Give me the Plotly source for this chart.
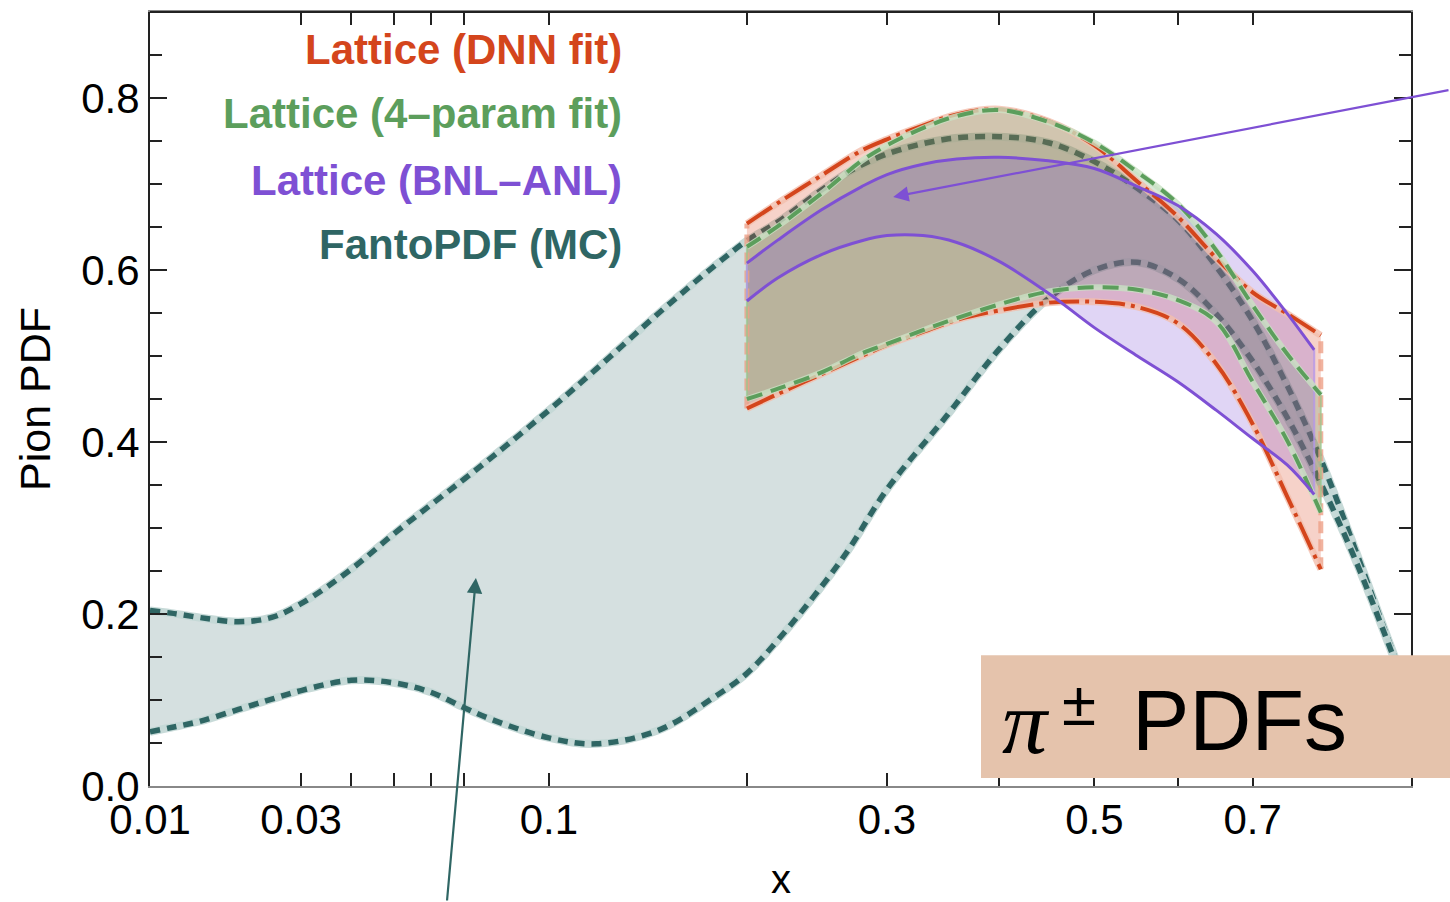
import numpy as np
import plotly.graph_objects as go

# ---------------- data ----------------
fanto_x = [0.01, 0.012, 0.015, 0.02, 0.025, 0.03, 0.04, 0.05, 0.06, 0.07, 0.08, 0.1, 0.12, 0.15, 0.18,
           0.2, 0.22, 0.25, 0.27, 0.3, 0.35, 0.4, 0.45, 0.5, 0.55, 0.6, 0.65, 0.7, 0.75, 0.8, 0.85, 0.9, 0.95]
fanto_hi = [0.204, 0.201, 0.196, 0.191, 0.196, 0.212, 0.252, 0.293, 0.327, 0.357, 0.385, 0.437, 0.485, 0.550, 0.604,
            0.634, 0.656, 0.693, 0.714, 0.735, 0.752, 0.755, 0.748, 0.726, 0.695, 0.658, 0.604, 0.541, 0.465,
            0.380, 0.283, 0.185, 0.092]
fanto_lo = [0.063, 0.068, 0.075, 0.089, 0.101, 0.111, 0.123, 0.120, 0.109, 0.091, 0.076, 0.056, 0.049, 0.065, 0.103,
            0.131, 0.170, 0.232, 0.275, 0.345, 0.429, 0.508, 0.567, 0.600, 0.609, 0.590, 0.549, 0.494, 0.428,
            0.352, 0.270, 0.180, 0.088]

lat_x = [0.2, 0.22, 0.25, 0.28, 0.3, 0.33, 0.36, 0.4, 0.45, 0.5, 0.55, 0.6, 0.65, 0.7, 0.75, 0.8]
dnn_hi = [0.654, 0.678, 0.710, 0.739, 0.752, 0.768, 0.781, 0.787, 0.773, 0.745, 0.703, 0.662, 0.614, 0.574, 0.549, 0.524]
dnn_lo = [0.439, 0.456, 0.479, 0.500, 0.513, 0.528, 0.542, 0.553, 0.562, 0.563, 0.557, 0.538, 0.491, 0.421, 0.336, 0.252]
p4_hi = [0.627, 0.651, 0.689, 0.727, 0.745, 0.765, 0.779, 0.786, 0.772, 0.748, 0.714, 0.677, 0.623, 0.559, 0.502, 0.455]
p4_lo = [0.450, 0.462, 0.481, 0.503, 0.514, 0.530, 0.544, 0.560, 0.575, 0.580, 0.577, 0.565, 0.540, 0.470, 0.401, 0.318]

bnl_x = [0.2, 0.22, 0.25, 0.28, 0.3, 0.33, 0.36, 0.4, 0.45, 0.5, 0.55, 0.6, 0.65, 0.7, 0.75, 0.79]
bnl_hi = [0.608, 0.635, 0.670, 0.697, 0.711, 0.723, 0.729, 0.731, 0.727, 0.718, 0.697, 0.675, 0.642, 0.599, 0.549, 0.507]
bnl_lo = [0.564, 0.591, 0.618, 0.634, 0.640, 0.640, 0.632, 0.610, 0.573, 0.533, 0.500, 0.470, 0.437, 0.404, 0.373, 0.339]

x_tick_vals = [0.01, 0.03, 0.1, 0.3, 0.5, 0.7]
x_tick_text = ["0.01", "0.03", "0.1", "0.3", "0.5", "0.7"]
x_minor_vals = [0.04, 0.05, 0.06, 0.07, 0.2, 0.4, 0.6]
y_tick_vals = [0.0, 0.2, 0.4, 0.6, 0.8]
y_tick_text = ["0.0", "0.2", "0.4", "0.6", "0.8"]

legend_labels = ["Lattice (DNN fit)", "Lattice (4\u2013param fit)", "Lattice (BNL\u2013ANL)", "FantoPDF (MC)"]

# ---------------- styling ----------------
RED = "#D4451C"
GREEN = "#5C9E5C"
PURPLE = "#7E50D4"
TEAL = "#2F6664"
FONT = "Liberation Sans"

P = 0.35  # power-law x scale (log-like at small x)


def tx(v):
    return (np.asarray(v, dtype=float) ** P).tolist()


fig = go.Figure()


def band(xs, lo, hi, fill):
    fig.add_trace(go.Scatter(x=tx(xs), y=lo, mode="lines", line=dict(width=0, shape="spline"),
                             showlegend=False, hoverinfo="skip"))
    fig.add_trace(go.Scatter(x=tx(xs), y=hi, mode="lines", line=dict(width=0, shape="spline"),
                             fill="tonexty", fillcolor=fill, showlegend=False, hoverinfo="skip"))


def curve(xs, ys, color, width, dash="solid"):
    fig.add_trace(go.Scatter(x=tx(xs), y=ys, mode="lines",
                             line=dict(color=color, width=width, dash=dash, shape="spline"),
                             showlegend=False, hoverinfo="skip"))


def edge(xv, y0, y1, color, width, dash="solid"):
    fig.add_trace(go.Scatter(x=tx([xv, xv]), y=[y0, y1], mode="lines",
                             line=dict(color=color, width=width, dash=dash),
                             showlegend=False, hoverinfo="skip"))


# FantoPDF band
band(fanto_x, fanto_lo, fanto_hi, "rgba(46,100,98,0.20)")
for ys in (fanto_hi, fanto_lo):
    curve(fanto_x, ys, "rgba(196,216,214,0.95)", 8)
    curve(fanto_x, ys, TEAL, 5.5, "10px,7px")

# lattice bands (fills)
band(lat_x, dnn_lo, dnn_hi, "rgba(216,68,28,0.24)")
band(lat_x, p4_lo, p4_hi, "rgba(92,158,92,0.24)")
band(bnl_x, bnl_lo, bnl_hi, "rgba(126,80,212,0.24)")

# band edges
edge(lat_x[0], dnn_lo[0], dnn_hi[0], "rgba(238,160,135,0.8)", 5, "12px,6px")
edge(lat_x[-1], dnn_lo[-1], dnn_hi[-1], "rgba(238,160,135,0.8)", 5, "12px,6px")
edge(lat_x[0], p4_lo[0], p4_hi[0], "rgba(150,200,140,0.7)", 2)
edge(lat_x[-1], p4_lo[-1], p4_hi[-1], "rgba(150,200,140,0.7)", 2)
edge(bnl_x[0], bnl_lo[0], bnl_hi[0], "rgba(180,150,235,0.8)", 2)
edge(bnl_x[-1], bnl_lo[-1], bnl_hi[-1], "rgba(180,150,235,0.8)", 2)

# lattice curves
for ys in (dnn_hi, dnn_lo):
    curve(lat_x, ys, "rgba(242,190,172,0.8)", 7)
    curve(lat_x, ys, RED, 4, "30px,6px,4px,6px")
for ys in (p4_hi, p4_lo):
    curve(lat_x, ys, "rgba(200,225,195,0.8)", 6)
    curve(lat_x, ys, GREEN, 4, "16px,9px")
for ys in (bnl_hi, bnl_lo):
    curve(bnl_x, ys, PURPLE, 3)

# ---------------- layout ----------------
L, R, T, B = 150, 39, 10, 116
W, H = 1450, 902
pw, ph = W - L - R, H - T - B


def px2paper(px, py):
    return (px - L) / pw, (H - B - py) / ph


annotations = []
legend_colors = [RED, GREEN, PURPLE, TEAL]
legend_py = [48, 112, 179, 243]
for lab, col, py in zip(legend_labels, legend_colors, legend_py):
    ax_, ay_ = px2paper(624, py)
    annotations.append(dict(text=lab, xref="paper", yref="paper", x=ax_, y=ay_, xanchor="right",
                            yanchor="middle", showarrow=False,
                            font=dict(family=FONT, size=42, color=col, weight="bold")))

# axis titles
xt = px2paper(781, 879)
annotations.append(dict(text="x", xref="paper", yref="paper", x=xt[0], y=xt[1], showarrow=False,
                        xanchor="center", yanchor="middle", font=dict(family=FONT, size=40, color="black")))
yt = px2paper(35, 398)
annotations.append(dict(text="Pion PDF", xref="paper", yref="paper", x=yt[0], y=yt[1], showarrow=False,
                        textangle=-90, xanchor="center", yanchor="middle",
                        font=dict(family=FONT, size=43, color="black")))

# pi+- PDFs label
p = px2paper(1026, 722)
annotations.append(dict(text="<i>\u03c0</i>", xref="paper", yref="paper", x=p[0], y=p[1], showarrow=False,
                        xanchor="center", yanchor="middle",
                        font=dict(family="Liberation Serif", size=90, color="black")))
p = px2paper(1079, 703)
annotations.append(dict(text="\u00b1", xref="paper", yref="paper", x=p[0], y=p[1], showarrow=False,
                        xanchor="center", yanchor="middle", font=dict(family=FONT, size=62, color="black")))
p = px2paper(1130, 720)
annotations.append(dict(text="PDFs", xref="paper", yref="paper", x=p[0], y=p[1], showarrow=False,
                        xanchor="left", yanchor="middle", font=dict(family=FONT, size=86, color="black")))

# arrows
annotations.append(dict(x=tx([0.305])[0], y=0.685, xref="x", yref="y", ax=557, ay=-107,
                        axref="pixel", ayref="pixel", text="", showarrow=True, arrowhead=2,
                        arrowsize=1.4, arrowwidth=2.2, arrowcolor=PURPLE))
annotations.append(dict(x=tx([0.0737])[0], y=0.242, xref="x", yref="y", ax=-29, ay=325,
                        axref="pixel", ayref="pixel", text="", showarrow=True, arrowhead=2,
                        arrowsize=1.4, arrowwidth=2.2, arrowcolor=TEAL))

bx0, by0 = px2paper(981, 778)
bx1, by1 = px2paper(1450, 655)
shapes = [
    dict(type="line", xref="paper", yref="paper", x0=0, x1=1, y0=1, y1=1,
         line=dict(color="#222", width=2), layer="above"),
    dict(type="rect", xref="paper", yref="paper", x0=bx0, x1=bx1, y0=by0, y1=by1,
         fillcolor="#E5C3AC", line=dict(width=0), layer="above"),
]

fig.update_layout(
    width=W, height=H,
    margin=dict(l=L, r=R, t=T, b=B, pad=0),
    paper_bgcolor="white", plot_bgcolor="white",
    showlegend=False,
    annotations=annotations,
    shapes=shapes,
    xaxis=dict(
        range=[0.01 ** P, 0.946 ** P], showgrid=False, zeroline=False,
        tickmode="array", tickvals=tx(x_tick_vals), ticktext=x_tick_text,
        ticks="inside", ticklen=13, tickwidth=2, tickcolor="#222",
        showline=True, linecolor="#888", linewidth=2, mirror="allticks",
        tickfont=dict(family=FONT, size=42, color="black"),
        ticklabelstandoff=-4,
        minor=dict(tickmode="array", tickvals=tx(x_minor_vals), ticks="inside", ticklen=13,
                   tickwidth=2, tickcolor="#222"),
    ),
    yaxis=dict(
        range=[0, 0.9], showgrid=False, zeroline=False,
        tickmode="array", tickvals=y_tick_vals, ticktext=y_tick_text,
        ticks="inside", ticklen=17, tickwidth=2, tickcolor="#222",
        showline=True, linecolor="#222", linewidth=2, mirror="allticks",
        tickfont=dict(family=FONT, size=42, color="black"),
        minor=dict(dtick=0.05, ticks="inside", ticklen=12, tickwidth=2, tickcolor="#222"),
    ),
)

fig.write_html("out.html")
